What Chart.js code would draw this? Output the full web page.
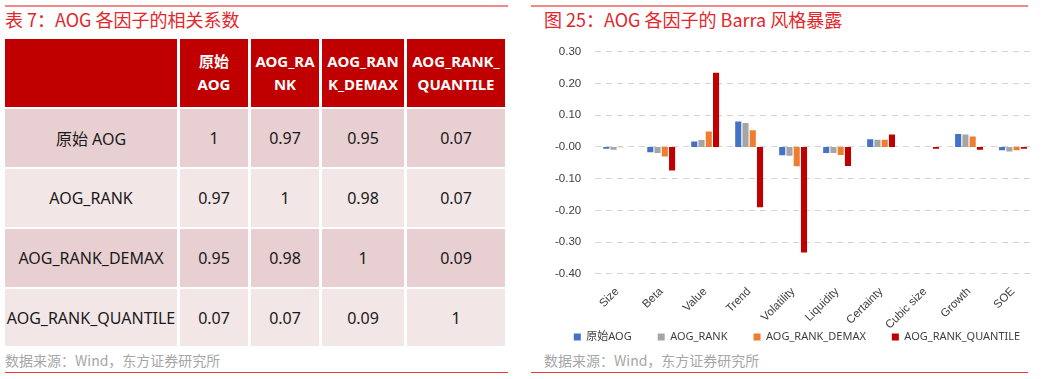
<!DOCTYPE html>
<html>
<head>
<meta charset="utf-8">
<script src="https://cdn.jsdelivr.net/npm/chart.js@4.4.0/dist/chart.umd.min.js"></script>
<style>
    body {
        margin: 0;
        width: 1049px;
        height: 379px;
        background: #fff;
        font-family: "Noto Sans", "Noto Sans CJK SC", sans-serif;
        position: relative;
        overflow: hidden;
    }
    .rule { position: absolute; height: 1px; background: #e8393d; }
    .rule.top { background: #f08a8a; height: 2px; }
    .title {
        position: absolute;
        color: #e3262b;
        font-size: 18px;
        font-family: "Noto Sans CJK SC", sans-serif;
        white-space: nowrap;
    }
    .source {
        position: absolute;
        color: #a6a6a6;
        font-size: 14px;
        font-family: "Noto Sans CJK SC", sans-serif;
        white-space: nowrap;
    }
    .cell {
        position: absolute;
        display: flex;
        align-items: center;
        justify-content: center;
        overflow: hidden;
        white-space: nowrap;
        color: #1a1a1a;
        font-size: 16px;
    }
    .head {
        background: #c00000;
        color: #fff;
        font-weight: bold;
        font-size: 15px;
        line-height: 23px;
        text-align: center;
    }
    #chartBox { position: absolute; left: 541px; top: 31px; width: 494px; height: 319px; }
</style>
</head>
<body>
<div class="rule top" style="left:5px; top:5px; width:503px;"></div>
<div class="rule top" style="left:531px; top:5px; width:497px;"></div>
<div class="title" style="left:5px; top:6px;">表 7：AOG 各因子的相关系数</div>
<div class="title" style="left:544px; top:6px;">图 25：AOG 各因子的 Barra 风格暴露</div>
<div id="table"></div>
<div class="source" style="left:5px; top:350px;">数据来源：Wind，东方证券研究所</div>
<div class="source" style="left:544px; top:350px;">数据来源：Wind，东方证券研究所</div>
<div class="rule" style="left:5px; top:372px; width:503px;"></div>
<div class="rule" style="left:531px; top:372px; width:497px;"></div>
<div id="chartBox"><canvas id="barraChart"></canvas></div>

<script>
// table data (header text keeps the line breaks of the source table)
const tableHeaders = ['', '原始<br>AOG', 'AOG_RA<br>NK', 'AOG_RAN<br>K_DEMAX', 'AOG_RANK_<br>QUANTILE'];
const tableRows = ['原始 AOG', 'AOG_RANK', 'AOG_RANK_DEMAX', 'AOG_RANK_QUANTILE'];
const corrValues = [
    ['1', '0.97', '0.95', '0.07'],
    ['0.97', '1', '0.98', '0.07'],
    ['0.95', '0.98', '1', '0.09'],
    ['0.07', '0.07', '0.09', '1']
];

// chart data
const factors = ['Size', 'Beta', 'Value', 'Trend', 'Volatility', 'Liquidity', 'Certainty', 'Cubic size', 'Growth', 'SOE'];
const seriesNames = ['原始AOG', 'AOG_RANK', 'AOG_RANK_DEMAX', 'AOG_RANK_QUANTILE'];
const rawAOG      = [-0.006, -0.017, 0.017, 0.080, -0.026, -0.019, 0.024, 0.000, 0.041, -0.010];
const aogRank     = [-0.009, -0.019, 0.022, 0.076, -0.028, -0.019, 0.023, 0.000, 0.039, -0.014];
const aogDemax    = [-0.001, -0.030, 0.049, 0.053, -0.061, -0.025, 0.023, 0.000, 0.033, -0.010];
const aogQuantile = [0.000, -0.074, 0.234, -0.190, -0.333, -0.060, 0.039, -0.006, -0.009, -0.006];
const seriesColors = ['#4472c4', '#a5a5a5', '#ed7d31', '#c00000'];

// build the table
const colX = [5, 180, 251, 322, 407, 508];
const rowY = [39, 109, 169, 229, 289, 348];
const rowBg = ['#e8cfd1', '#f3e6e7', '#e8cfd1', '#f3e6e7'];
const table = document.getElementById('table');

function addCell(c, r, html, cls, bg) {
    const d = document.createElement('div');
    d.className = 'cell ' + cls;
    d.style.left = colX[c] + 'px';
    d.style.top = rowY[r] + 'px';
    d.style.width = (colX[c + 1] - colX[c] - 3) + 'px';
    d.style.height = (rowY[r + 1] - rowY[r] - 2) + 'px';
    if (bg) d.style.background = bg;
    d.innerHTML = html;
    table.appendChild(d);
}

tableHeaders.forEach((h, c) => addCell(c, 0, h, 'head'));
tableRows.forEach((name, r) => {
    addCell(0, r + 1, name, '', rowBg[r]);
    corrValues[r].forEach((v, c) => addCell(c + 1, r + 1, v, '', rowBg[r]));
});

// legend: keep it on one row, small reserved height, placed under the labels
const legendCenterX = 256;
const legendCenterY = 306;
const legendTweak = {
    id: 'legendTweak',
    beforeInit(chart) {
        const legend = chart.legend;
        const fit = legend.fit;
        legend.fit = function() {
            const mw = this.maxWidth;
            this.maxWidth = mw + 120;
            fit.bind(this)();
            this.maxWidth = mw;
            this.width = mw;
            this.height = 15;
        };
    },
    afterLayout(chart) {
        const legend = chart.legend;
        const pad = legend.options.labels.padding;
        legend.left = legendCenterX - 300;
        legend.right = legendCenterX + 300;
        legend.top = legendCenterY - pad - 5.5;
        legend.bottom = legendCenterY + 15;
    }
};

// build the chart
const ctx = document.getElementById('barraChart').getContext('2d');
const seriesData = [rawAOG, aogRank, aogDemax, aogQuantile];

new Chart(ctx, {
    type: 'bar',
    data: {
        labels: factors,
        datasets: seriesNames.map((name, i) => ({
            label: name,
            data: seriesData[i],
            backgroundColor: seriesColors[i],
            borderWidth: 0,
            categoryPercentage: 0.66,
            barPercentage: 0.84
        }))
    },
    options: {
        responsive: true,
        maintainAspectRatio: false,
        animation: false,
        layout: { padding: { left: 0, right: 0, top: 4, bottom: 0 } },
        plugins: {
            legend: {
                position: 'bottom',
                labels: {
                    boxWidth: 7,
                    boxHeight: 7,
                    padding: 26,
                    color: '#404040',
                    font: { size: 11, family: '"Noto Sans", "Noto Sans CJK SC", sans-serif' }
                }
            },
            tooltip: { enabled: false }
        },
        scales: {
            x: {
                grid: { display: false },
                border: { display: false },
                ticks: {
                    color: '#404040',
                    minRotation: 45,
                    maxRotation: 45,
                    font: { size: 11.5 }
                }
            },
            y: {
                min: -0.4,
                max: 0.3,
                border: { display: false, dash: [6, 5] },
                grid: {
                    color: function(context) {
                        return context.tick && context.tick.value === 0 ? '#d0d0d0' : '#d4d4d4';
                    },
                    lineWidth: function(context) {
                        return context.tick && context.tick.value === 0 ? 2 : 1;
                    },
                    drawTicks: false
                },
                ticks: {
                    stepSize: 0.1,
                    padding: 14,
                    color: '#404040',
                    font: { size: 11.5 },
                    callback: function(value) {
                        return value.toFixed(2);
                    }
                }
            }
        }
    },
    plugins: [legendTweak]
});
</script>
</body>
</html>
